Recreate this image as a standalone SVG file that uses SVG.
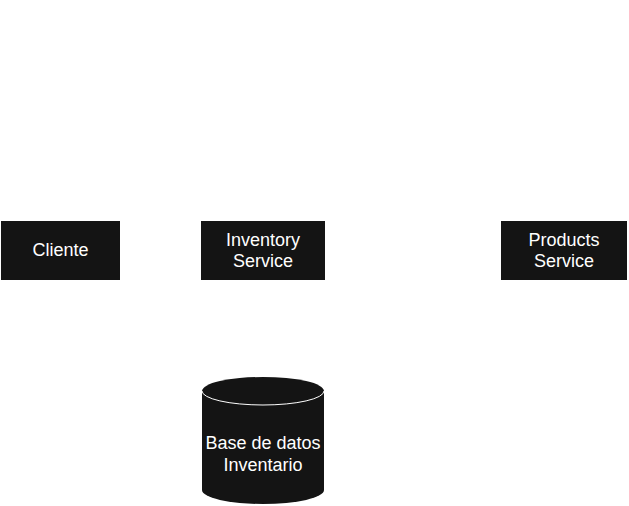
<svg xmlns="http://www.w3.org/2000/svg" width="629" height="506" viewBox="0 0 629 506">
<style>
.box{fill:#141414;stroke:none}
.lbl{font-family:"Liberation Sans",Arial,Helvetica,sans-serif;font-size:18px;fill:#ffffff;text-anchor:middle}
</style>
<rect x="0" y="0" width="629" height="506" fill="#ffffff"/>
<g id="connectors"></g>
<g id="cliente">
<rect class="box" x="1" y="221" width="119" height="59"/>
<text class="lbl" x="60.5" y="256">Cliente</text>
</g>
<g id="inventory-service">
<rect class="box" x="201" y="221" width="124" height="59"/>
<text class="lbl" x="263" y="245.5">Inventory</text>
<text class="lbl" x="263" y="267">Service</text>
</g>
<g id="products-service">
<rect class="box" x="501" y="221" width="126" height="59"/>
<text class="lbl" x="564" y="245.5">Products</text>
<text class="lbl" x="564" y="267">Service</text>
</g>
<g id="base-de-datos">
<path class="box" d="M202,391 A61,14 0 0 1 324,391 L324,490 A61,14 0 0 1 202,490 Z"/>
<path d="M202,391 A61,14 0 0 0 324,391" fill="none" stroke="#ffffff" stroke-width="1"/>
<text class="lbl" x="263" y="449">Base de datos</text>
<text class="lbl" x="263" y="470.5">Inventario</text>
</g>
</svg>
